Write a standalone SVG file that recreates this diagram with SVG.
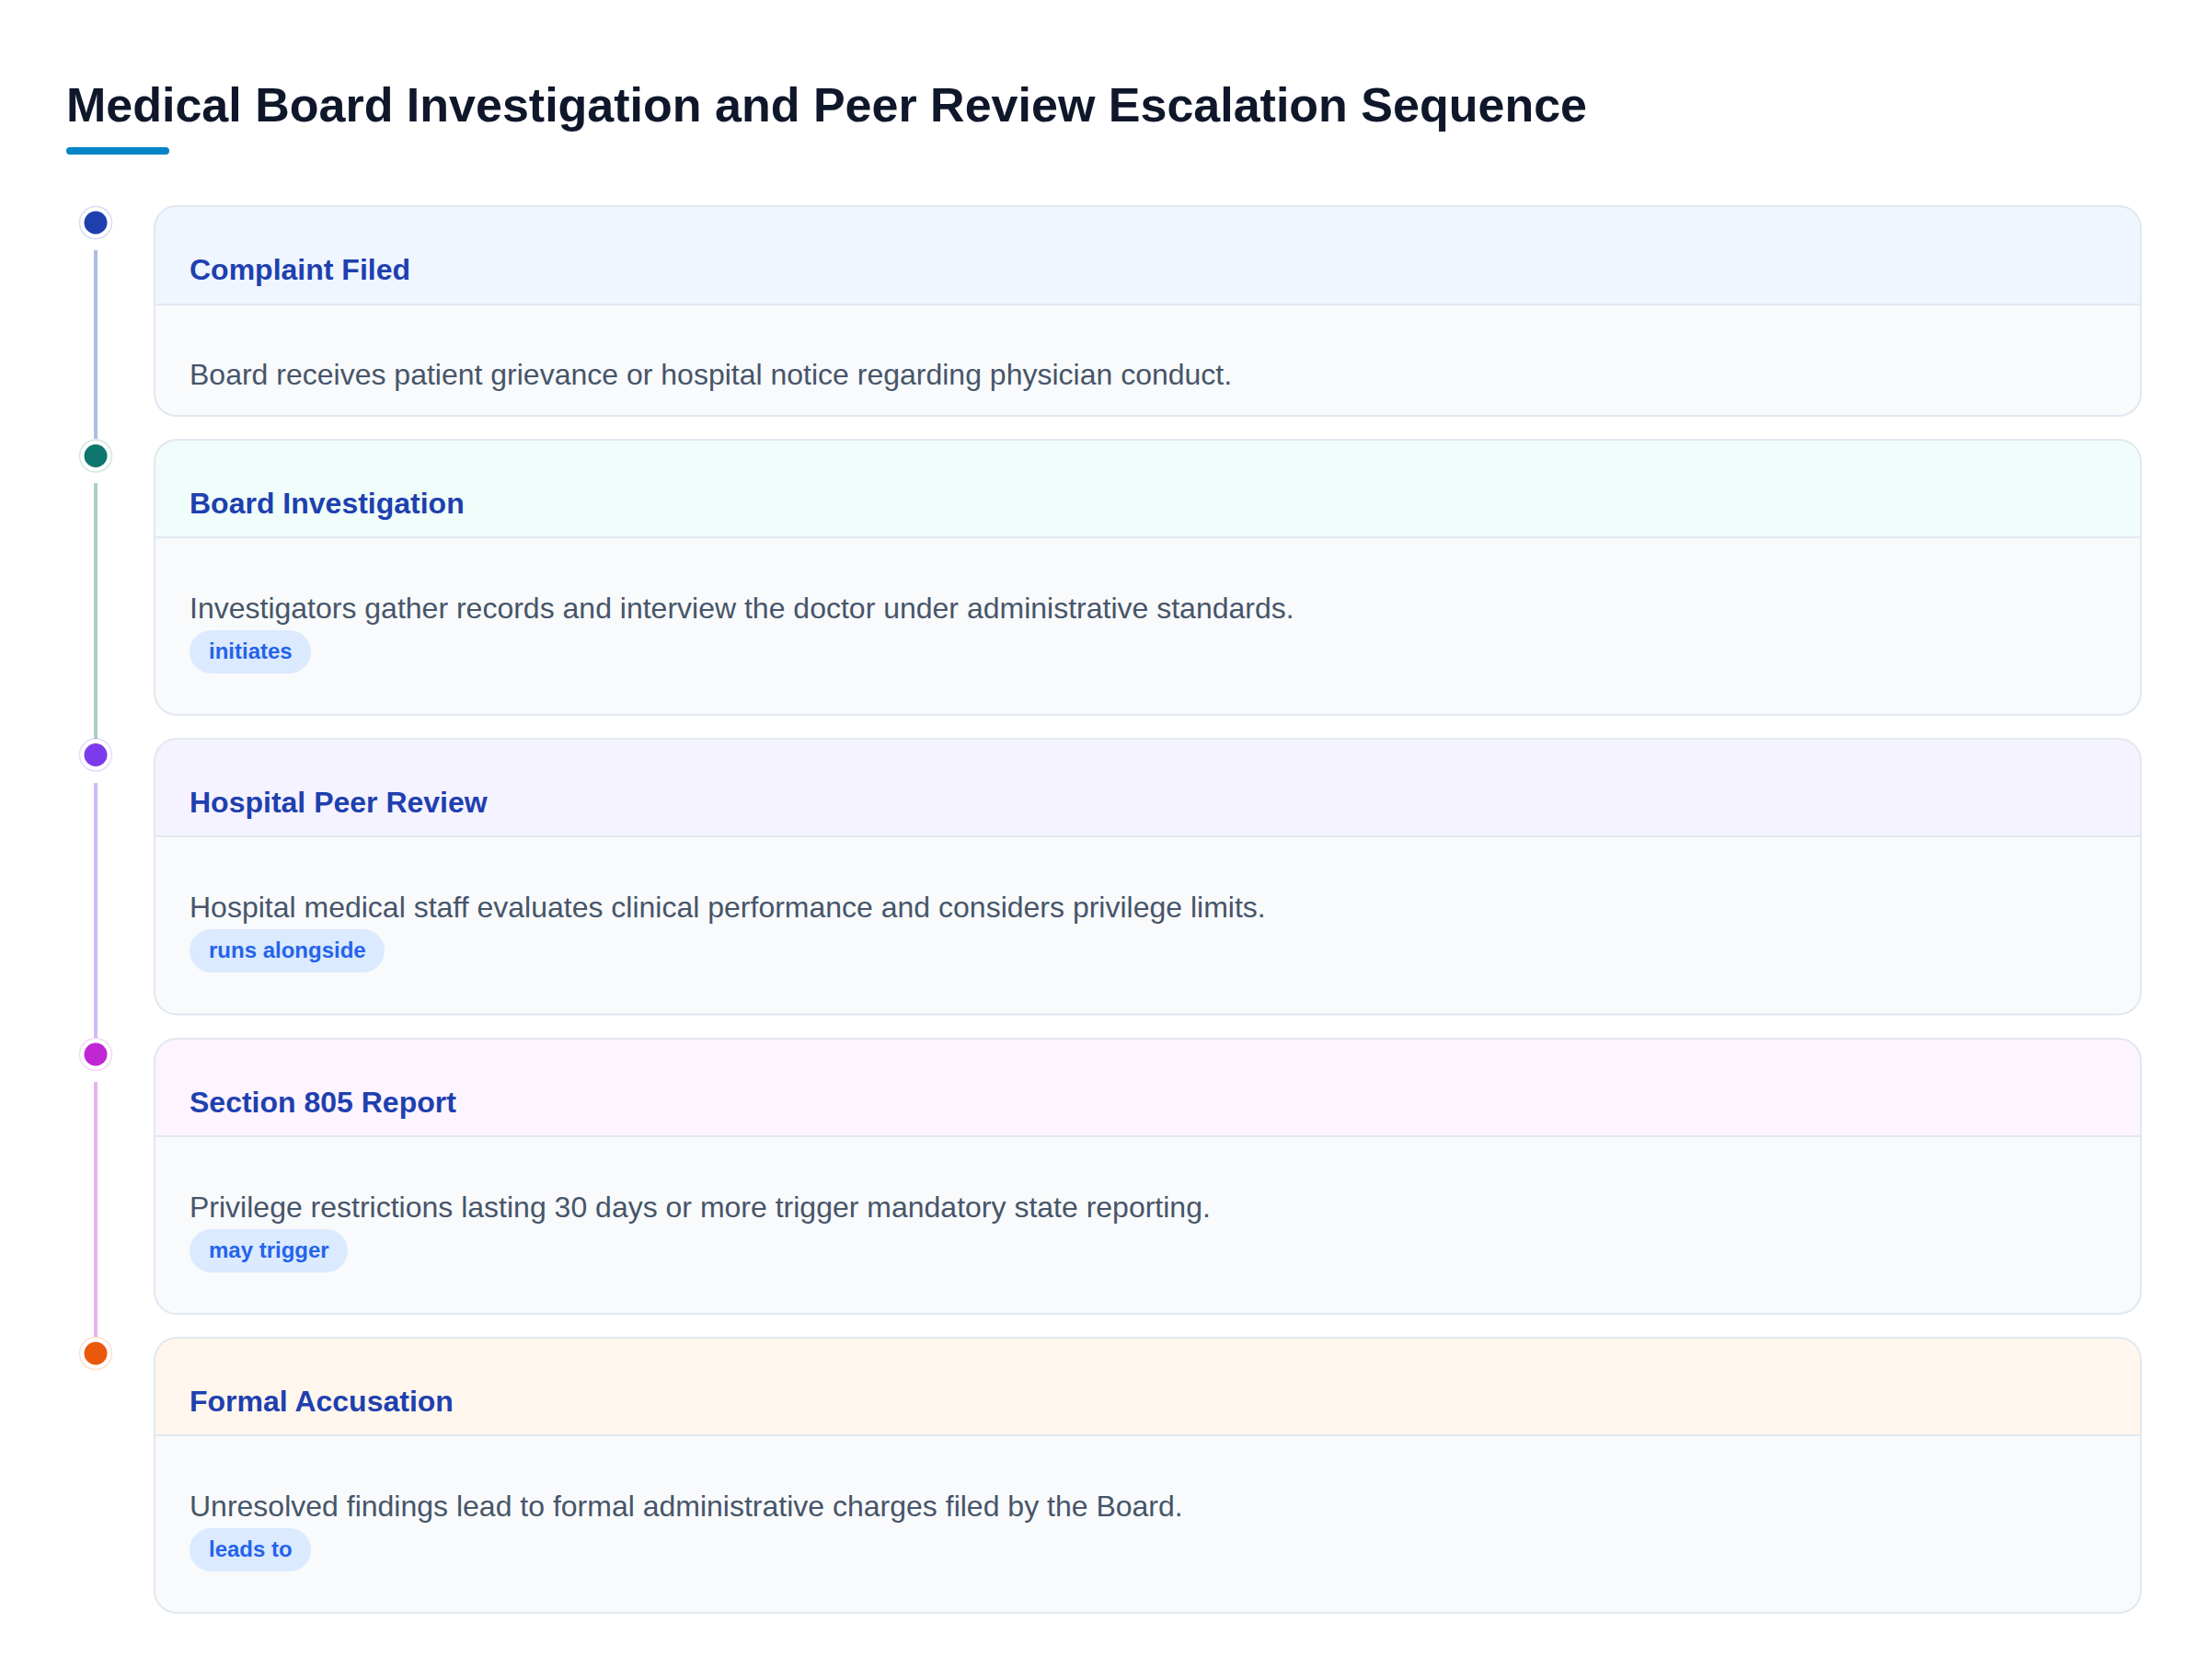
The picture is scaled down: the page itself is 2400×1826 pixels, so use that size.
<svg xmlns="http://www.w3.org/2000/svg" width="2400" height="1826" viewBox="0 0 2400 1826">
<style>
.title{font-family:"Liberation Sans",Arial,sans-serif;font-weight:700;font-size:52px;fill:#0f172a}
.ctitle{font-family:"Liberation Sans",Arial,sans-serif;font-weight:700;font-size:32px;fill:#1e40af}
.body{font-family:"Liberation Sans",Arial,sans-serif;font-size:32px;fill:#475569}
.tag{font-family:"Liberation Sans",Arial,sans-serif;font-weight:700;font-size:24px;fill:#2563eb}
.tagbg{fill:#dbeafe}
.card{fill:#f8fafc}
.border{fill:none;stroke:#e2e8f0;stroke-width:2}
.div{stroke:#e2e8f0;stroke-width:2}
.ring{fill:#ffffff;stroke-width:1.5}
.seg{stroke-width:4;stroke-opacity:0.35}
</style>
<rect width="2400" height="1826" fill="#ffffff"/>
<text class="title" x="72" y="132">Medical Board Investigation and Peer Review Escalation Sequence</text>
<rect x="72" y="160" width="112" height="8" rx="4" fill="#0284c7"/>

<g id="connectors">
<line class="seg" x1="104" y1="272" x2="104" y2="477" stroke="#1e40af"/>
<line class="seg" x1="104" y1="525" x2="104" y2="803" stroke="#0f766e"/>
<line class="seg" x1="104" y1="851" x2="104" y2="1128" stroke="#7c3aed"/>
<line class="seg" x1="104" y1="1176" x2="104" y2="1453" stroke="#c026d3"/>
</g>

<g id="node1" transform="translate(0,224)">
<circle class="ring" cx="104" cy="18" r="17.5" stroke="#1e40af" stroke-opacity="0.18"/>
<circle cx="104" cy="18" r="12.5" fill="#1e40af"/>
<rect class="card" x="168" y="0" width="2159" height="228" rx="24"/>
<path d="M168,107 V24 A24,24 0 0 1 192,0 H2303 A24,24 0 0 1 2327,24 V107 Z" fill="#eff6ff"/>
<line class="div" x1="168" y1="107" x2="2327" y2="107"/>
<rect class="border" x="168" y="0" width="2159" height="228" rx="24"/>
<text class="ctitle" x="206" y="80">Complaint Filed</text>
<text class="body" x="206" y="194">Board receives patient grievance or hospital notice regarding physician conduct.</text>
</g>

<g id="node2" transform="translate(0,478)">
<circle class="ring" cx="104" cy="17.5" r="17.5" stroke="#0f766e" stroke-opacity="0.18"/>
<circle cx="104" cy="17.5" r="12.5" fill="#0f766e"/>
<rect class="card" x="168" y="0" width="2159" height="299" rx="24"/>
<path d="M168,106 V24 A24,24 0 0 1 192,0 H2303 A24,24 0 0 1 2327,24 V106 Z" fill="#f0fdfa"/>
<line class="div" x1="168" y1="106" x2="2327" y2="106"/>
<rect class="border" x="168" y="0" width="2159" height="299" rx="24"/>
<text class="ctitle" x="206" y="80">Board Investigation</text>
<text class="body" x="206" y="194">Investigators gather records and interview the doctor under administrative standards.</text>
<rect class="tagbg" x="206" y="207" width="132" height="47" rx="23.5"/>
<text class="tag" x="227" y="238">initiates</text>
</g>

<g id="node3" transform="translate(0,803)">
<circle class="ring" cx="104" cy="17.5" r="17.5" stroke="#7c3aed" stroke-opacity="0.18"/>
<circle cx="104" cy="17.5" r="12.5" fill="#7c3aed"/>
<rect class="card" x="168" y="0" width="2159" height="299.5" rx="24"/>
<path d="M168,106 V24 A24,24 0 0 1 192,0 H2303 A24,24 0 0 1 2327,24 V106 Z" fill="#f5f3ff"/>
<line class="div" x1="168" y1="106" x2="2327" y2="106"/>
<rect class="border" x="168" y="0" width="2159" height="299.5" rx="24"/>
<text class="ctitle" x="206" y="80">Hospital Peer Review</text>
<text class="body" x="206" y="194">Hospital medical staff evaluates clinical performance and considers privilege limits.</text>
<rect class="tagbg" x="206" y="207" width="212" height="47" rx="23.5"/>
<text class="tag" x="227" y="238">runs alongside</text>
</g>

<g id="node4" transform="translate(0,1129)">
<circle class="ring" cx="104" cy="17" r="17.5" stroke="#c026d3" stroke-opacity="0.18"/>
<circle cx="104" cy="17" r="12.5" fill="#c026d3"/>
<rect class="card" x="168" y="0" width="2159" height="299" rx="24"/>
<path d="M168,106 V24 A24,24 0 0 1 192,0 H2303 A24,24 0 0 1 2327,24 V106 Z" fill="#fdf4ff"/>
<line class="div" x1="168" y1="106" x2="2327" y2="106"/>
<rect class="border" x="168" y="0" width="2159" height="299" rx="24"/>
<text class="ctitle" x="206" y="80">Section 805 Report</text>
<text class="body" x="206" y="194">Privilege restrictions lasting 30 days or more trigger mandatory state reporting.</text>
<rect class="tagbg" x="206" y="207" width="172" height="47" rx="23.5"/>
<text class="tag" x="227" y="238">may trigger</text>
</g>

<g id="node5" transform="translate(0,1454)">
<circle class="ring" cx="104" cy="17" r="17.5" stroke="#ea580c" stroke-opacity="0.18"/>
<circle cx="104" cy="17" r="12.5" fill="#ea580c"/>
<rect class="card" x="168" y="0" width="2159" height="299" rx="24"/>
<path d="M168,106 V24 A24,24 0 0 1 192,0 H2303 A24,24 0 0 1 2327,24 V106 Z" fill="#fff7ed"/>
<line class="div" x1="168" y1="106" x2="2327" y2="106"/>
<rect class="border" x="168" y="0" width="2159" height="299" rx="24"/>
<text class="ctitle" x="206" y="80">Formal Accusation</text>
<text class="body" x="206" y="194">Unresolved findings lead to formal administrative charges filed by the Board.</text>
<rect class="tagbg" x="206" y="207" width="132" height="47" rx="23.5"/>
<text class="tag" x="227" y="238">leads to</text>
</g>
</svg>
